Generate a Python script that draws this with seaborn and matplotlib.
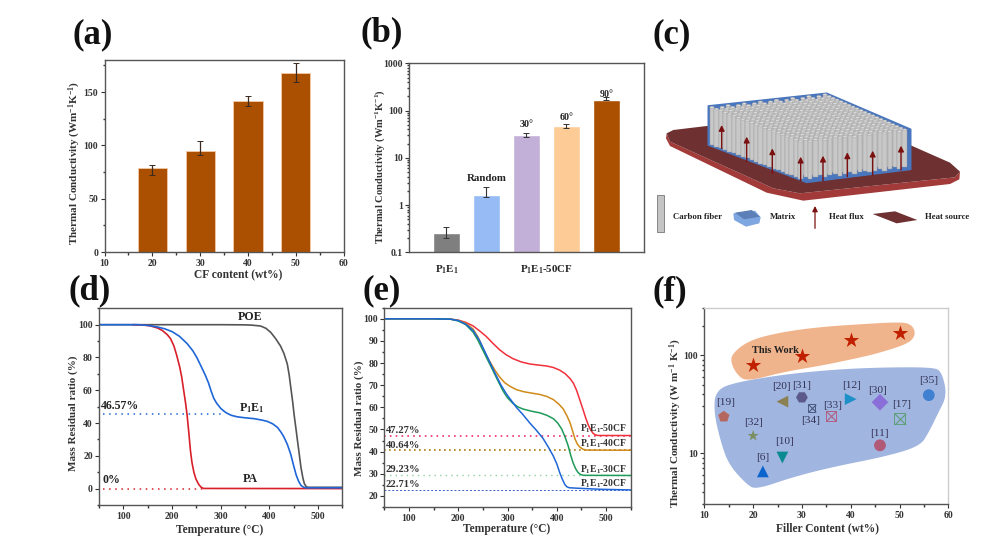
import numpy as np
import pandas as pd
import matplotlib
matplotlib.use("Agg")
import matplotlib.pyplot as plt
import seaborn as sns
from matplotlib.patches import Polygon, Rectangle, Ellipse
from matplotlib.ticker import MultipleLocator, LogLocator, FixedLocator, NullFormatter, FuncFormatter

# ---------- data ----------
cf_content = [20, 30, 40, 50]
cf_tc = [79, 94.5, 142, 168]
cf_err_low = [7, 3.5, 5, 9]
cf_err_high = [3, 9.5, 4, 9]

angle_names = ["P1E1", "Random", "30", "60", "90"]
angle_tc = [0.26, 1.65, 30, 47, 170]
angle_err_low = [0.06, 0.15, 3, 5, 5]
angle_err_high = [0.09, 0.75, 4, 4, 20]
angle_colors = ["#7F7F7F", "#96BBF5", "#C3B0D8", "#FDCB96", "#AB5000"]

d_poe_t = [50, 300, 350, 365, 382, 393, 403, 413, 423, 430, 437, 441, 444, 448, 451, 455, 458, 462, 465, 469, 472, 476, 479, 550]
d_poe_v = [100, 100, 99.9, 99.7, 99.2, 97.8, 95.3, 91.5, 87, 82.5, 76, 69, 62, 53, 45, 36, 29, 20, 13, 6.5, 3, 1.2, 0.8, 0.8]
d_pa_t = [120, 140, 155, 170, 180, 190, 197, 204, 210, 216, 220, 224, 228, 231, 234, 238, 241, 245, 249, 255, 260, 265, 550]
d_pa_v = [100, 99.8, 99.3, 98, 96.5, 94, 91.5, 87, 81, 74, 68, 60, 52, 45, 36, 23, 16, 10, 6, 2.5, 0.8, 0.1, 0]
d_pe_t = [50, 130, 150, 170, 185, 200, 215, 231, 243, 251, 260, 268, 275, 281, 286, 292, 300, 307, 313, 322, 334, 350, 368, 385, 396, 407, 417, 425, 430, 437, 444, 450, 455, 460, 465, 470, 475, 550]
d_pe_v = [100, 100, 99.6, 98.6, 97.5, 95.8, 93, 88.5, 84, 80, 74.5, 69.5, 64.5, 59, 55, 52, 49, 47.2, 46, 44.7, 43.8, 43.2, 42.7, 41.8, 41, 39.5, 37.3, 34, 31.5, 27, 21, 14, 8.5, 4.6, 2, 0.9, 0.5, 0.5]

e_t50 = [50, 150, 185, 200, 215, 230, 243, 257, 270, 284, 297, 311, 328, 345, 362, 379, 393, 406, 417, 427, 434, 440, 447, 454, 459, 464, 469, 474, 479, 484, 550]
e_v50 = [100, 100, 99.8, 99.4, 98.4, 96.8, 94.6, 92, 89, 86, 83.8, 82, 80.5, 79.6, 79.1, 78.7, 78, 76.8, 75.2, 73, 70.8, 67.8, 63.2, 58.5, 55, 52, 49.7, 48.2, 47.5, 47.3, 47.27]
e_t40 = [50, 150, 185, 200, 215, 230, 240, 250, 258, 267, 275, 284, 294, 305, 318, 332, 350, 366, 380, 393, 404, 413, 421, 427, 432, 437, 442, 447, 453, 460, 550]
e_v40 = [100, 100, 99.8, 99.3, 98, 95.4, 91.8, 86.8, 83, 79.6, 76.6, 73.7, 71.2, 69.5, 68, 67.1, 66.4, 65.8, 64.9, 63.5, 61.5, 59.3, 56, 53, 49.4, 45.7, 43.3, 42, 41.1, 40.7, 40.64]
e_t30 = [50, 150, 185, 200, 215, 230, 240, 250, 260, 271, 281, 291, 300, 311, 321, 332, 350, 366, 380, 393, 402, 410, 417, 423, 428, 433, 438, 443, 448, 454, 550]
e_v30 = [100, 100, 99.8, 99, 97.4, 94, 90.3, 85.8, 81.3, 76.4, 71.8, 67.4, 64.3, 61.8, 60.2, 59.2, 58.2, 57.5, 56.4, 54.9, 52.9, 50.2, 46.5, 42.7, 38.6, 35, 32.4, 30.6, 29.7, 29.3, 29.23]
e_t20 = [50, 150, 185, 200, 215, 230, 243, 257, 267, 277, 287, 298, 308, 318, 331, 345, 358, 372, 383, 393, 400, 406, 411, 416, 420, 425, 440, 488, 550]
e_v20 = [100, 100, 99.8, 99.2, 97.6, 94.8, 90.3, 83.8, 79, 74.4, 70, 66, 63, 60, 56.8, 53, 49.8, 46, 42, 38, 34.5, 30.5, 27.7, 25.3, 24.2, 23.7, 23.5, 23, 22.71]

this_work_x = [20, 30, 40, 50]
this_work_y = [80, 98, 142, 168]
ref_labels = ["[19]", "[32]", "[6]", "[10]", "[20]", "[31]", "[34]", "[33]", "[12]", "[30]", "[11]", "[17]", "[35]"]
ref_x = [14, 20, 22, 26, 26, 30, 32, 36, 40, 46, 46, 50, 56]
ref_y = [23.5, 15, 6.5, 9, 33.5, 37, 29, 24, 35.5, 33, 12, 22.5, 39]
ref_markers = ["p", "*", "^", "v", "<", "H", "s", "s", ">", "D", "o", "*", "o"]
ref_colors = ["#B5675F", "#7C8F62", "#0B63CE", "#0C8A92", "#8A8052", "#5B5A8A", "#4A5A80",
              "#B06080", "#1E90C8", "#8A6FD8", "#B05A78", "#5FA078", "#3F80D0"]

orange_x = [15.9, 19.4, 26.2, 34.4, 42.6, 49.4, 52.1, 53.0, 51.8, 46.7, 42.6, 34.4, 26.2, 18.7, 17.0, 15.9]
orange_y = [100, 137, 166, 187, 199, 208, 202, 166, 137, 113, 100, 82, 70, 56, 65, 82]
blue_x = [12.7, 16.6, 26.2, 36.4, 46.7, 56.9, 58.3, 59.3, 57.6, 55.6, 53.9, 46.7, 36.4, 28.2, 20.7, 19, 15.3, 13.6, 12.4]
blue_y = [42.4, 50.3, 60.2, 67.7, 71.4, 71.4, 65, 39.2, 26.5, 16.6, 12.2, 9.6, 7.6, 6.0, 4.48, 4.95, 7.9, 14.2, 26.5]

# ---------- style ----------
sns.set_theme(style="ticks")
plt.rcParams.update({
    "font.family": ["Liberation Serif", "DejaVu Serif"],
    "font.weight": "bold",
    "axes.labelweight": "bold",
    "axes.edgecolor": "#555555",
    "axes.linewidth": 1.0,
    "xtick.color": "#333333", "ytick.color": "#333333",
    "xtick.labelsize": 7.0, "ytick.labelsize": 7.0,
    "xtick.major.size": 3, "ytick.major.size": 3,
    "xtick.minor.size": 1.8, "ytick.minor.size": 1.8,
    "xtick.major.width": 0.8, "ytick.major.width": 0.8,
    "xtick.major.pad": 2, "ytick.major.pad": 1.5,
    "mathtext.fontset": "custom",
    "mathtext.rm": "Liberation Serif:bold",
    "mathtext.default": "rm",
    "text.color": "#222222",
    "axes.labelcolor": "#333333",
})
W, H = 982, 544
fig = plt.figure(figsize=(W / 100, H / 100), dpi=100)


def make_axes(l, r, t, b):
    return fig.add_axes([l / W, 1 - b / H, (r - l) / W, (b - t) / H])


def place_labels(ax, xlabel, xpos, ylabel, ypos, size=8.0):
    if xlabel:
        ax.set_xlabel(xlabel, fontsize=size + 0.3, fontweight="bold")
        ax.xaxis.set_label_coords(xpos[0] / W, 1 - xpos[1] / H, transform=fig.transFigure)
        ax.xaxis.label.set_va("center")
    ax.set_ylabel(ylabel, fontsize=size, fontweight="bold")
    ax.yaxis.set_label_coords(ypos[0] / W, 1 - ypos[1] / H, transform=fig.transFigure)
    ax.yaxis.label.set_va("center")


def smooth_outline(xs, ys, rounds=3):
    """Corner cutting of a closed blob outline, done in the log-y space of the axes."""
    p = np.column_stack([xs, np.log10(ys)])
    for _ in range(rounds):
        q = np.roll(p, -1, axis=0)
        p = np.column_stack([0.75 * p + 0.25 * q, 0.25 * p + 0.75 * q]).reshape(-1, 2)
    return p[:, 0], 10 ** p[:, 1]


for s, (x, y) in {"(a)": (73, 35), "(b)": (360, 33), "(c)": (652, 35),
                  "(d)": (68, 291), "(e)": (362, 291), "(f)": (652, 292)}.items():
    fig.text(x / W, 1 - y / H, s, fontsize=25, fontweight="bold", va="center", ha="left", color="#111111")

P1E1 = "P$_1$E$_1$"

# ---------- (a) ----------
ax = make_axes(104.5, 343.7, 60, 252)
sns.barplot(x=cf_content, y=cf_tc, native_scale=True, color="#AB5000", saturation=1,
            width=0.61, ax=ax, errorbar=None, edgecolor="#F2C9A8", linewidth=0.6)
ax.errorbar(cf_content, cf_tc, yerr=[cf_err_low, cf_err_high], fmt="none", ecolor="#3A2A20", elinewidth=0.9, capsize=2, capthick=0.7)
ax.set_xlim(10, 60)
ax.set_ylim(0, 180)
ax.set_xticks([10, 20, 30, 40, 50, 60])
ax.xaxis.set_minor_locator(MultipleLocator(5))
ax.set_yticks([0, 50, 100, 150])
ax.yaxis.set_minor_locator(MultipleLocator(25))
place_labels(ax, "CF content (wt%)", (238, 275), "Thermal Conductivity (Wm$^{-1}$K$^{-1}$)", (75, 163))

# ---------- (b) ----------
ax = make_axes(409.3, 643.7, 63.3, 252.3)
ax.set_yscale("log")
sns.barplot(x=angle_names, y=angle_tc, order=angle_names, hue=angle_names, palette=dict(zip(angle_names, angle_colors)),
            saturation=1, width=0.68, dodge=False, legend=False, ax=ax, errorbar=None)
xb = list(range(len(angle_tc)))
ax.errorbar(xb, angle_tc, yerr=[angle_err_low, angle_err_high], fmt="none", ecolor="#333333", elinewidth=0.8, capsize=2, capthick=0.7)
ax.set_xlim(-0.925, 4.93)
ax.set_ylim(0.1, 1000)
ax.set_xticks([])
ax.set_xlabel("")
ax.yaxis.set_major_locator(FixedLocator([0.1, 1, 10, 100, 1000]))
ax.yaxis.set_major_formatter(FuncFormatter(lambda v, _: f"{v:g}"))
ax.yaxis.set_minor_locator(LogLocator(base=10, subs=np.arange(2, 10), numticks=12))
ax.yaxis.set_minor_formatter(NullFormatter())
place_labels(ax, "", None, "Thermal Conductivity (Wm$^{-1}$K$^{-1}$)", (380, 167), size=7.6)
for x, y, s, fs in [(1, 3.68, "Random", 7.8), (2, 49.5, "30°", 7.2), (3, 71, "60°", 7.2), (4, 214, "90°", 7.2)]:
    ax.text(x, y, s, ha="center", va="center", fontsize=fs)
ax.text(0, -0.09, P1E1, transform=ax.get_xaxis_transform(), ha="center", va="center", fontsize=7.8)
ax.text(2.51, -0.09, P1E1 + "-50CF", transform=ax.get_xaxis_transform(), ha="center", va="center", fontsize=7.8)

# ---------- (d) ----------
ax = make_axes(99, 342.3, 308.3, 505)
for tx, vx, c in [(d_poe_t, d_poe_v, "#555555"), (d_pa_t, d_pa_v, "#D8202A"), (d_pe_t, d_pe_v, "#1F66D8")]:
    sns.lineplot(x=tx, y=vx, color=c, lw=1.2, ax=ax, estimator=None, sort=False, errorbar=None)
sns.lineplot(x=[59, 306], y=[45.5, 45.5], color="#1F66D8", lw=1.1, ls=(0, (1, 3)), ax=ax, errorbar=None)
sns.lineplot(x=[59, 265], y=[0, 0], color="#D8202A", lw=1.1, ls=(0, (1, 3)), ax=ax, errorbar=None)
ax.set_xlim(50, 550)
ax.set_ylim(-10, 110)
ax.set_xticks([100, 200, 300, 400, 500])
ax.xaxis.set_minor_locator(MultipleLocator(50))
ax.set_yticks([0, 20, 40, 60, 80, 100])
ax.yaxis.set_minor_locator(MultipleLocator(10))
place_labels(ax, "Temperature (°C)", (220, 530), "Mass Residual ratio (%)", (73, 413))
for x, y, s in [(361, 104.5, "POE"), (365, 49.4, P1E1), (361, 6, "PA"), (94, 50.5, "46.57%"), (76, 5, "0%")]:
    ax.text(x, y, s, ha="center", va="center", fontsize=8.6)

# ---------- (e) ----------
ax = make_axes(384.3, 630.7, 307.7, 507)
for level, c, lw, ls in [(47.27, "#F0306A", 1.2, (0, (1, 2.5))), (40.64, "#B07A10", 1.2, (0, (1, 2))),
                         (29.23, "#8FD0A0", 1.0, (0, (1, 3))), (22.9, "#3A60C8", 0.7, (0, (2, 2)))]:
    sns.lineplot(x=[50, 550], y=[level, level], color=c, lw=lw, ls=ls, ax=ax, errorbar=None)
for tx, vx, c in [(e_t50, e_v50, "#F0303A"), (e_t40, e_v40, "#D08A18"), (e_t30, e_v30, "#1E9A58"), (e_t20, e_v20, "#1F66D8")]:
    sns.lineplot(x=tx, y=vx, color=c, lw=1.1, ax=ax, estimator=None, sort=False, errorbar=None)
ax.set_xlim(50, 550)
ax.set_ylim(15, 105)
ax.set_xticks([100, 200, 300, 400, 500])
ax.xaxis.set_minor_locator(MultipleLocator(50))
ax.set_yticks(range(20, 101, 10))
ax.yaxis.set_minor_locator(MultipleLocator(5))
place_labels(ax, "Temperature (°C)", (507, 529), "Mass Residual ratio (%)", (359, 418))
for y, s in [(49.6, "47.27%"), (42.7, "40.64%"), (32, "29.23%"), (25.2, "22.71%")]:
    ax.text(53, y, s, ha="left", va="center", fontsize=7.6, color="#333333")
for y, s in [(50.2, "-50CF"), (43.7, "-40CF"), (32, "-30CF"), (25.6, "-20CF")]:
    ax.text(495, y, P1E1 + s, ha="center", va="center", fontsize=6.9, color="#333333")

# ---------- (f) ----------
ax = make_axes(704.3, 948.3, 308.3, 504.3)
ax.set_yscale("log")
ax.fill(*smooth_outline(blue_x, blue_y), color="#A0B5E0", lw=3, joinstyle="round", zorder=1)
ax.fill(*smooth_outline(orange_x, orange_y), color="#F0B48C", lw=2.5, joinstyle="round", zorder=1)
refs = pd.DataFrame({"x": ref_x, "y": ref_y, "ref": ref_labels})
solid = [i for i, r in enumerate(ref_labels) if r not in ("[34]", "[33]", "[17]")]
sns.scatterplot(data=refs.iloc[solid], x="x", y="y", hue="ref", style="ref",
                palette=dict(zip(ref_labels, ref_colors)), markers=dict(zip(ref_labels, ref_markers)),
                s=72, linewidth=0, legend=False, ax=ax, zorder=3)
for r, mk, sz in [("[34]", "s", 30), ("[33]", "s", 55), ("[17]", "s", 65)]:
    i = ref_labels.index(r)
    sns.scatterplot(x=[ref_x[i]], y=[ref_y[i]], marker=mk, s=sz, facecolor="none", edgecolor=ref_colors[i], linewidth=0.7, ax=ax, zorder=3)
    sns.scatterplot(x=[ref_x[i]], y=[ref_y[i]], marker="x", s=sz, color=ref_colors[i], linewidth=0.8, ax=ax, zorder=3)
sns.scatterplot(x=this_work_x, y=this_work_y, marker="*", s=135, color="#C02000", linewidth=0, ax=ax, zorder=4)
offsets = [(2, 14), (0, 13), (0, 14), (2, 16), (-1, 15), (0, 12), (-1, -13), (1, 10), (1, 14), (-2, 12), (-1, 12), (2, 14), (0, 15)]
for r, x, y, o in zip(ref_labels, ref_x, ref_y, offsets):
    ax.annotate(r, (x, y), xytext=o, textcoords="offset pixels", ha="center", va="center",
                fontsize=8.2, fontweight="normal", color="#333355", zorder=5)
ax.text(24.5, 112, "This Work", ha="center", va="center", fontsize=7.4, zorder=5)
ax.set_xlim(10, 60)
ax.set_ylim(3, 300)
ax.set_xticks([10, 20, 30, 40, 50, 60])
ax.xaxis.set_minor_locator(MultipleLocator(5))
ax.yaxis.set_major_locator(FixedLocator([10, 100]))
ax.yaxis.set_major_formatter(FuncFormatter(lambda v, _: f"{v:g}"))
ax.yaxis.set_minor_locator(LogLocator(base=10, subs=np.arange(2, 10), numticks=12))
ax.yaxis.set_minor_formatter(NullFormatter())
for s in ("top", "right"):
    ax.spines[s].set_color("#CCCCCC")
place_labels(ax, "Filler Content (wt%)", (827, 528), "Thermal Conductivity (W m$^{-1}$ K$^{-1}$)", (676, 423))

# ---------- (c) schematic, drawn in image pixels ----------
sc = fig.add_axes([0, 0, 1, 1], zorder=-1)
sc.set_xlim(0, W)
sc.set_ylim(H, 0)
sc.axis("off")


def z(pts):
    return [(640 + a / 3, 10 + b / 3) for a, b in pts]


plate_top = [(80, 370), (100, 360), (200, 348), (810, 405), (930, 458), (960, 485), (945, 502), (480, 550),
             (400, 535), (90, 395)]
plate_low = [(78, 385), (80, 370), (90, 395), (400, 535), (480, 550), (945, 502), (960, 485), (958, 508), (930, 522),
             (490, 572), (380, 548), (90, 408)]
sc.add_patch(Polygon(z(plate_low), fc="#A33A3A", ec="none", zorder=1))
sc.add_patch(Polygon(z(plate_top), fc="#6E3030", ec="none", zorder=2))
block = [(205, 288), (560, 250), (812, 358), (812, 478), (500, 517), (205, 405)]
sc.add_patch(Polygon(z(block), fc="#4A76BE", ec="#4A76BE", lw=1.2, joinstyle="round", zorder=3))

L, B, R, F = np.array((216, 292)), np.array((555, 254)), np.array((800, 362)), np.array((488, 396))
nu, nv = 21, 15
fibres = []
for i in range(nu):
    for j in range(nv):
        u, v = (i + 0.5 * (j % 2)) / (nu - 0.5), j / (nv - 1)
        p = L + (F - L) * u + (B - L) * v + (u * v) * (R - B - F + L)
        fibres.append(p)
fibres.sort(key=lambda p: p[1])
for p in fibres:
    x0, y0 = 640 + p[0] / 3, 10 + p[1] / 3
    height = (405 - 290) / 3 * 0.98
    sc.add_patch(Rectangle((x0 - 2.2, y0), 4.4, height, fc="#C8C8C8", ec="#9A9A9A", lw=0.3, zorder=4))
    sc.add_patch(Ellipse((x0, y0), 4.4, 2.0, fc="#DADADA", ec="#A0A0A0", lw=0.25, zorder=4))

arrows = [(245, 415, 345), (320, 455, 380), (397, 490, 415), (482, 512, 440), (549, 512, 437), (622, 500, 427), (698, 495, 422), (783, 480, 407)]
for a, b0, b1 in arrows:
    sc.annotate("", xy=(640 + a / 3, 10 + b1 / 3), xytext=(640 + a / 3, 10 + b0 / 3),
                arrowprops=dict(arrowstyle="-|>,head_width=0.14,head_length=0.28", color="#7A1010", lw=1.0, shrinkA=0, shrinkB=0), zorder=5)

# schematic key
sc.add_patch(Rectangle((640 + 52 / 3, 10 + 555 / 3), 21 / 3, 110 / 3, fc="#C4C4C4", ec="#777777", lw=0.6, zorder=5))
sc.add_patch(Polygon(z([(280, 610), (345, 602), (362, 622), (358, 640), (318, 650), (282, 630)]), fc="#7EA6E0", ec="none", zorder=5))
sc.add_patch(Polygon(z([(285, 608), (335, 600), (360, 620), (312, 628)]), fc="#5C7FB8", ec="none", zorder=6))
sc.annotate("", xy=(640 + 525 / 3, 10 + 588 / 3), xytext=(640 + 525 / 3, 10 + 655 / 3),
            arrowprops=dict(arrowstyle="-|>,head_width=0.13,head_length=0.26", color="#7A1010", lw=0.9, shrinkA=0, shrinkB=0), zorder=5)
sc.add_patch(Polygon(z([(698, 612), (765, 604), (832, 630), (770, 640)]), fc="#6E3030", ec="none", zorder=5))
for xz, s in [(98, "Carbon fiber"), (390, "Matrix"), (567, "Heat flux"), (855, "Heat source")]:
    sc.text(640 + xz / 3, 10 + 620 / 3, s, ha="left", va="center", fontsize=6.3, color="#222222")

fig.savefig("out.png", dpi=100)
